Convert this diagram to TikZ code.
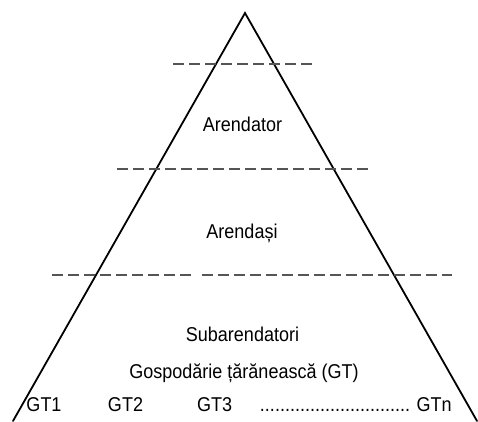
\documentclass[tikz,border=0pt]{standalone}
\usepackage{fontspec}
\setmainfont{Liberation Sans}[FakeStretch=0.9]
\usepackage{tikz}
\usetikzlibrary{positioning}
\tikzstyle{label} = [draw=none, font=\fontsize{20}{24}\selectfont, inner sep=0pt, anchor=base]
\tikzstyle{side} = [draw, line width=1.8pt, line cap=round]
\tikzstyle{level} = [draw, color={rgb,255: red, 85; green, 85; blue, 85}, line width=1.3pt, dash pattern=on 11pt off 5pt]

\begin{document}
\begin{tikzpicture}[x=1pt, y=-1pt]
\useasboundingbox (0,0) rectangle (478,421);

\coordinate (top) at (245,13);
\coordinate (base_l) at (13,421);
\coordinate (base_r) at (477,421);

\coordinate (lvl1_l) at (173,64);
\coordinate (lvl1_r) at (312,64);
\coordinate (lvl2_l) at (117,169);
\coordinate (lvl2_r) at (368,169);
\coordinate (lvl3_l) at (52,275);
\coordinate (lvl3_m1) at (191,275);
\coordinate (lvl3_m2) at (202,275);
\coordinate (lvl3_r) at (452,275);

\node [label] at (242.5,131.5) (text_1) {Arendator};
\node [label] at (242,238) (text_2) {Arendași};
\node [label] at (242.5,341.5) (text_3) {Subarendatori};
\node [label] at (244,378) (text_4) {Gospodărie țărănească (GT)};

\node [label] at (44,411.5) (gt_1) {GT1};
\node [label] at (125.5,411.5) (gt_2) {GT2};
\node [label] at (214.5,411.5) (gt_3) {GT3};
\node [label] at (335,411.5) (gt_dots) {..............................};
\node [label] at (434,411.5) (gt_n) {GTn};

\path [side] (base_l) -- (top) -- (base_r);

\path [level] (lvl1_l) -- (lvl1_r);
\path [level] (lvl2_l) -- (lvl2_r);
\path [level] (lvl3_l) -- (lvl3_m1);
\path [level] (lvl3_m2) -- (lvl3_r);

\end{tikzpicture}
\end{document}
